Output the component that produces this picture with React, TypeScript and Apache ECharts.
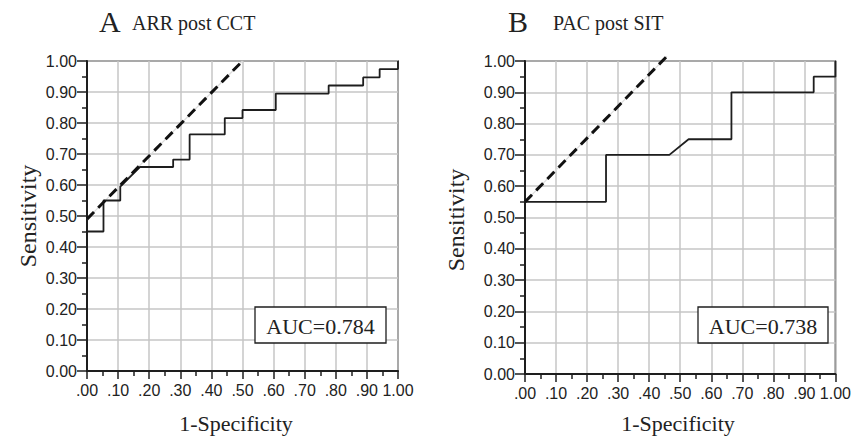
import React, { useEffect, useRef } from "react";
import * as echarts from "echarts";

// ---- Data ----
const xTickLabels = [".00", ".10", ".20", ".30", ".40", ".50", ".60", ".70", ".80", ".90", "1.00"];
const yTickLabels = ["0.00", "0.10", "0.20", "0.30", "0.40", "0.50", "0.60", "0.70", "0.80", "0.90", "1.00"];

// Panel A: ARR post CCT (1-Specificity, Sensitivity)
const rocA: [number, number][] = [
  [0, 0.0], [0, 0.45], [0.053, 0.45], [0.053, 0.55], [0.107, 0.55], [0.107, 0.595],
  [0.17, 0.658], [0.277, 0.658], [0.277, 0.682], [0.33, 0.682], [0.33, 0.763],
  [0.443, 0.763], [0.443, 0.816], [0.5, 0.816], [0.5, 0.842], [0.607, 0.842],
  [0.607, 0.895], [0.777, 0.895], [0.777, 0.921], [0.888, 0.921], [0.888, 0.947],
  [0.941, 0.947], [0.941, 0.974], [1.0, 0.974], [1.0, 1.0],
];
const refA: [number, number][] = [[0, 0.49], [0.5, 1.0]];

// Panel B: PAC post SIT
const rocB: [number, number][] = [
  [0, 0.0], [0, 0.55], [0.261, 0.55], [0.261, 0.7], [0.465, 0.7], [0.527, 0.75],
  [0.665, 0.75], [0.665, 0.9], [0.93, 0.9], [0.93, 0.95], [1.0, 0.95], [1.0, 1.0],
];
const refB: [number, number][] = [[0, 0.55], [0.457, 1.015]];

const titleLetters = ["A", "B"];
const titleTexts = ["ARR post CCT", "PAC post SIT"];
const aucTexts = ["AUC=0.784", "AUC=0.738"];
const xName = "1-Specificity";
const yName = "Sensitivity";

const SERIF = "'Liberation Serif', 'Times New Roman', serif";
const SANS = "'Liberation Sans', Arial, sans-serif";
const INK = "#1e1e1e";

function makeXAxis(gridIndex: number) {
  return {
    type: "value",
    gridIndex,
    min: 0,
    max: 1,
    interval: 0.1,
    axisLine: { show: true, onZero: false, lineStyle: { color: INK, width: 2 } },
    axisTick: { show: true, length: 8, lineStyle: { color: INK, width: 1.5 } },
    minorTick: { show: true, splitNumber: 2, length: 5, lineStyle: { color: INK, width: 1.5 } },
    splitLine: { show: true, lineStyle: { color: "#c6c6c6", width: 1.5 } },
    axisLabel: {
      margin: 11,
      fontFamily: SANS,
      fontSize: 16,
      color: "#222",
      formatter: (v: number) => xTickLabels[Math.round(v * 10)] ?? "",
    },
  };
}

function makeYAxis(gridIndex: number) {
  return {
    type: "value",
    gridIndex,
    min: 0,
    max: 1,
    interval: 0.1,
    axisLine: { show: true, onZero: false, lineStyle: { color: INK, width: 2 } },
    axisTick: { show: true, length: 10, lineStyle: { color: INK, width: 1.5 } },
    minorTick: { show: true, splitNumber: 2, length: 5, lineStyle: { color: INK, width: 1.5 } },
    splitLine: { show: true, lineStyle: { color: "#c6c6c6", width: 1.5 } },
    axisLabel: {
      margin: 10,
      fontFamily: SANS,
      fontSize: 16,
      color: "#222",
      formatter: (v: number) => yTickLabels[Math.round(v * 10)] ?? "",
    },
  };
}

function rocSeries(data: [number, number][], idx: number) {
  return {
    type: "line",
    xAxisIndex: idx,
    yAxisIndex: idx,
    data,
    symbol: "none",
    silent: true,
    lineStyle: { color: INK, width: 1.8 },
    z: 3,
  };
}

function refSeries(data: [number, number][], idx: number) {
  return [
    {
      type: "line",
      xAxisIndex: idx,
      yAxisIndex: idx,
      data,
      symbol: "none",
      silent: true,
      clip: false,
      lineStyle: { color: "#dddddd", width: 1.2 },
      z: 2,
    },
    {
      type: "line",
      xAxisIndex: idx,
      yAxisIndex: idx,
      data,
      symbol: "none",
      silent: true,
      clip: false,
      lineStyle: { color: "#111", width: 3, type: [10, 6] },
      z: 4,
    },
  ];
}

export default function App() {
  const ref = useRef<HTMLDivElement>(null);

  useEffect(() => {
    if (!ref.current) return;
    const chart = echarts.init(ref.current, undefined, { renderer: "svg" });

    const grids = [
      { left: 87, top: 61, width: 311, height: 310 },
      { left: 525, top: 61, width: 313, height: 313 },
    ];

    const graphic: any[] = [];
    const titlePos = [
      { lx: 99, tx: 132 },
      { lx: 508, tx: 553 },
    ];
    const aucBox = [
      { x: 255, y: 307, w: 131, h: 36 },
      { x: 698, y: 307, w: 130, h: 36 },
    ];
    const yNameX = [28, 456];
    const xNameX = [236, 678];

    for (let i = 0; i < 2; i++) {
      graphic.push({
        type: "text",
        left: titlePos[i].lx,
        top: 6,
        style: { text: titleLetters[i], font: `30px ${SERIF}`, fill: "#222" },
      });
      graphic.push({
        type: "text",
        left: titlePos[i].tx,
        top: 13,
        style: { text: titleTexts[i], font: `20px ${SERIF}`, fill: "#222" },
      });
      graphic.push({
        type: "rect",
        shape: { x: aucBox[i].x, y: aucBox[i].y, width: aucBox[i].w, height: aucBox[i].h },
        style: { fill: "#fff", stroke: INK, lineWidth: 1.3 },
        z: 10,
      });
      graphic.push({
        type: "text",
        x: aucBox[i].x + aucBox[i].w / 2,
        y: aucBox[i].y + aucBox[i].h / 2 + 1,
        style: {
          text: aucTexts[i],
          font: `22px ${SERIF}`,
          fill: "#222",
          align: "center",
          verticalAlign: "middle",
        },
        z: 11,
      });
      graphic.push({
        type: "text",
        x: yNameX[i],
        y: 216 + i * 4,
        rotation: Math.PI / 2,
        style: {
          text: yName,
          font: `24px ${SERIF}`,
          fill: "#222",
          align: "center",
          verticalAlign: "middle",
        },
      });
      graphic.push({
        type: "text",
        x: xNameX[i],
        y: 423,
        style: {
          text: xName,
          font: `22px ${SERIF}`,
          fill: "#222",
          align: "center",
          verticalAlign: "middle",
        },
      });
    }

    chart.setOption({
      animation: false,
      backgroundColor: "#ffffff",
      grid: grids.map((g) => ({ ...g, show: true, borderColor: INK, borderWidth: 1.5, backgroundColor: "transparent" })),
      xAxis: [makeXAxis(0), makeXAxis(1)],
      yAxis: [makeYAxis(0), makeYAxis(1)],
      series: [
        ...refSeries(refA, 0),
        rocSeries(rocA, 0),
        ...refSeries(refB, 1),
        rocSeries(rocB, 1),
      ],
      graphic,
    });

    return () => chart.dispose();
  }, []);

  return (
    <div
      ref={ref}
      style={{ position: "fixed", left: 0, top: 0, width: 854, height: 437, background: "#fff" }}
    />
  );
}
